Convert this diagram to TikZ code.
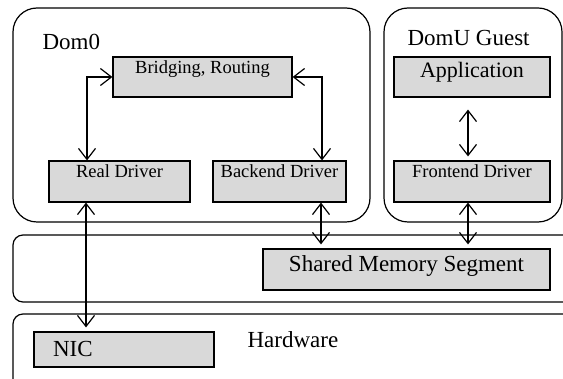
\documentclass[tikz,border=0pt]{standalone}
\usepackage{fontspec}
\setmainfont{Liberation Serif}
\usetikzlibrary{arrows.meta, positioning}

\definecolor{boxgray}{RGB}{217,217,217}

\begin{document}
\begin{tikzpicture}[
    x=1pt, y=-1pt,
    >={Straight Barb[length=11pt, width=17pt]},
    line width=1.2pt,
    panel/.style={draw, rounded corners=24pt},
    layer/.style={draw, rounded corners=10pt},
    box/.style={draw, fill=boxgray, inner sep=0pt, font=\fontsize{18.5}{20}\selectfont,
                text height=12pt, text depth=19pt},
    bigbox/.style={box, font=\fontsize{23}{25}\selectfont},
    title/.style={font=\fontsize{23}{25}\selectfont, inner sep=0pt, anchor=base west}
]
\useasboundingbox (0,0) rectangle (563,379);

% Panels -----------------------------------------------------

\draw[panel] (13,8) rectangle (370,222);
\draw[panel] (384,8) rectangle (562,222);
\draw[layer] (13,235) rectangle (600,302);
\draw[layer] (13,314) rectangle (600,400);

% Nodes ------------------------------------------------------

\node[title] (dom0) at (42,50) {Dom0};
\node[title] (domu) at (407,46) {DomU Guest};
\node[title] (hw) at (247,348) {Hardware};

\node[box, minimum width=179pt, minimum height=40pt] (bridge) at (202.5,77) {Bridging, Routing};
\node[box, minimum width=141pt, minimum height=41pt] (real) at (119.5,181.5) {Real Driver};
\node[box, minimum width=133pt, minimum height=41pt] (backend) at (279.5,181.5) {Backend Driver};

\node[bigbox, minimum width=156pt, minimum height=40pt, font=\fontsize{22}{24}\selectfont,
      text height=16pt, text depth=14pt] (app) at (472,77) {Application};
\node[box, minimum width=156pt, minimum height=41pt] (front) at (472,181.5) {Frontend Driver};

\node[bigbox, minimum width=287pt, minimum height=41pt,
      text height=16pt, text depth=11pt] (shm) at (406.5,269.5) {Shared Memory Segment};
\node[bigbox, minimum height=35pt, text width=142pt, inner xsep=19pt, align=left,
      text height=16pt, text depth=1pt] (nic) at (124,349.5) {NIC};

% Arrows ---------------------------------------------------

\draw [<->] (bridge.west) -| ([xshift=-32.5pt]real.north);
\draw [<->] (bridge.east) -| ([xshift=42.5pt]backend.north);
\draw [<->, shorten <=12pt, shorten >=4pt] ([xshift=-4pt]app.south) -- ([xshift=-4pt]front.north);
\draw [<->, shorten >=4pt] ([xshift=-33.5pt]real.south) -- ([xshift=-33.5pt]real.south |- nic.north);
\draw [<->, shorten >=4pt] ([xshift=41.5pt]backend.south) -- ([xshift=41.5pt]backend.south |- shm.north);
\draw [<->, shorten >=4pt] ([xshift=-4pt]front.south) -- ([xshift=-4pt]front.south |- shm.north);

\end{tikzpicture}
\end{document}
